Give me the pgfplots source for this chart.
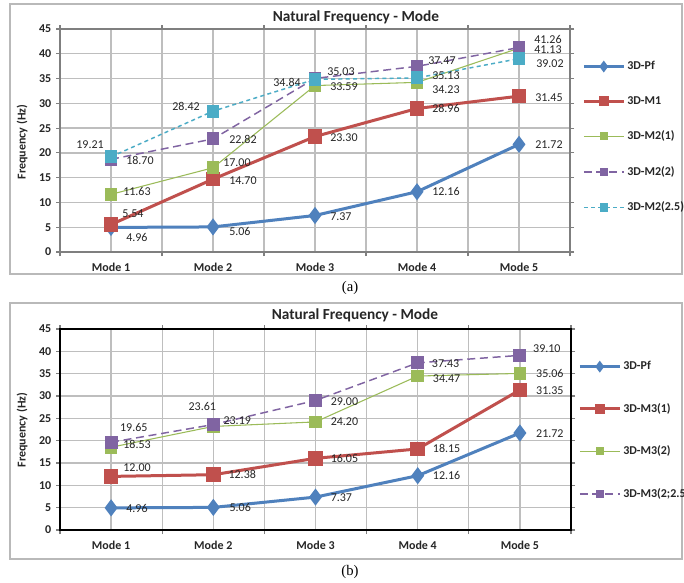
\documentclass[border=0pt]{standalone}
\usepackage{pgfplots}
\pgfplotsset{compat=1.18}
\usepackage{fontspec}
\setmainfont{Carlito}
\newfontfamily\capfont{Liberation Serif}
\definecolor{cblue}{HTML}{4F81BD}
\definecolor{cred}{HTML}{C0504D}
\definecolor{cgreen}{HTML}{9BBB59}
\definecolor{cpurple}{HTML}{8064A2}
\definecolor{ccyan}{HTML}{4BACC6}
\definecolor{gridc}{HTML}{BEBEBE}
\definecolor{axc}{HTML}{7F7F7F}

\pgfplotsset{
  base/.style={
    scale only axis, clip=false,
    xmin=0.5, xmax=5.5, ymin=0, ymax=45,
    xtick={1,2,3,4,5},
    xticklabels={Mode 1,Mode 2,Mode 3,Mode 4,Mode 5},
    minor xtick={0.5,1.5,2.5,3.5,4.5,5.5},
    ytick={0,5,...,45},
    xmajorgrids, xminorgrids, ymajorgrids,
    grid style={gridc, line width=1pt},
    minor grid style={gridc, line width=1pt},
    tick align=outside,
    major tick length=3pt, minor tick length=3pt,
    every major x tick/.append style={draw=none},
    every minor x tick/.append style={axc, line width=0.8pt},
    every major y tick/.append style={axc, line width=0.8pt},
    tick label style={font=\bfseries\fontsize{9}{10}\selectfont, text=black!85},
    xticklabel style={yshift=-2pt},
    /pgf/number format/assume math mode=true,
    legend cell align=left,
    legend style={draw=none, fill=none, inner sep=0pt, anchor=north west,
      font=\bfseries\fontsize{9}{10}\selectfont,
      nodes={inner sep=1.5pt, text=black!85}},
    legend image code/.code={
      \draw[mark repeat=2,mark phase=2,##1,mark size=2.6pt]
        plot coordinates {(0pt,0pt) (15pt,0pt) (30pt,0pt)};},
  },
  pf/.style={cblue, line width=2.25pt, mark=diamond*, mark size=4.6pt, mark options={solid}},
  mone/.style={cred, line width=2.25pt, mark=square*, mark size=4.3pt, mark options={solid}},
  mtwo/.style={cgreen, line width=0.8pt, mark=square*, mark size=4.3pt, mark options={solid}},
  mthree/.style={cpurple, line width=1.1pt, dash pattern=on 6pt off 3.5pt, mark=square*, mark size=4.3pt, mark options={solid}},
  mfour/.style={ccyan, line width=1.1pt, dash pattern=on 3pt off 2.5pt, mark=square*, mark size=4.3pt, mark options={solid}},
}
\tikzset{lbl/.style={inner sep=0pt, font=\fontsize{9}{10}\selectfont, text=black!85}}
\newcommand\lab[5][west]{\node[lbl,anchor=#1,xshift=#4pt,yshift=#5pt] at (axis cs:#2) {#3};}

\begin{document}
\begin{tikzpicture}[x=0.75pt,y=-0.75pt]
\useasboundingbox (0,0) rectangle (684,582);
\fill[white] (0,0) rectangle (684,582);
\draw[gray!55, line width=1.1pt] (10,4) rectangle (682,274);
\draw[gray!55, line width=1.1pt] (10,303) rectangle (682,559);
\node[font=\capfont\fontsize{11}{13}\selectfont] at (350,288) {(a)};
\node[font=\capfont\fontsize{11}{13}\selectfont] at (350,572) {(b)};
\node[font=\bfseries\fontsize{11.5}{13}\selectfont, text=black!85] at (356,17) {Natural Frequency - Mode};
\node[font=\bfseries\fontsize{11.5}{13}\selectfont, text=black!85] at (355,315) {Natural Frequency - Mode};
\node[rotate=90, font=\bfseries\fontsize{9}{10}\selectfont, text=black!85] at (22,142) {Frequency (Hz)};
\node[rotate=90, font=\bfseries\fontsize{9}{10}\selectfont, text=black!85] at (22,430) {Frequency (Hz)};

% ---------------- panel (a)
\begin{axis}[base,
  at={(45pt,-189pt)}, anchor=south west,
  width=382.5pt, height=167.25pt,
  axis line style={axc, line width=0.9pt},
  legend style={at={(axis description cs:1.0235,0.865)}},
  legend style={row sep=15.5pt},
]
\addplot[pf] coordinates {(1,4.96) (2,5.06) (3,7.37) (4,12.16) (5,21.72)};
\addplot[mone] coordinates {(1,5.54) (2,14.70) (3,23.30) (4,28.96) (5,31.45)};
\addplot[mtwo] coordinates {(1,11.63) (2,17.00) (3,33.59) (4,34.23) (5,41.13)};
\addplot[mthree] coordinates {(1,18.70) (2,22.82) (3,35.03) (4,37.47) (5,41.26)};
\addplot[mfour] coordinates {(1,19.21) (2,28.42) (3,34.84) (4,35.13) (5,39.02)};
\legend{3D-Pf,3D-M1,3D-M2(1),3D-M2(2),3D-M2(2.5)}
% labels 3D-Pf
\lab{1,4.96}{4.96}{11.25}{-7.5}
\lab{2,5.06}{5.06}{12}{-3.75}
\lab{3,7.37}{7.37}{11.25}{-0.75}
\lab{4,12.16}{12.16}{11.25}{0}
\lab{5,21.72}{21.72}{12}{0}
% 3D-M1
\lab{1,5.54}{5.54}{8.25}{8.25}
\lab{2,14.70}{14.70}{12}{-0.75}
\lab{3,23.30}{23.30}{11.25}{-1}
\lab{4,28.96}{28.96}{11.25}{0}
\lab{5,31.45}{31.45}{12}{-0.75}
% 3D-M2(1)
\lab{1,11.63}{11.63}{9}{2.25}
\lab{2,17.00}{17.00}{7.5}{3.75}
\lab{3,33.59}{33.59}{11.25}{-1}
\lab{4,34.23}{34.23}{11.25}{-5.25}
\lab{5,41.13}{41.13}{11.25}{-0.75}
% 3D-M2(2)
\lab{1,18.70}{18.70}{11.25}{-0.75}
\lab{2,22.82}{22.82}{12}{-0.75}
\lab{3,35.03}{35.03}{9}{5.25}
\lab{4,37.47}{37.47}{8.25}{4.5}
\lab{5,41.26}{41.26}{11.25}{6}
% 3D-M2(2.5)
\lab[east]{1,19.21}{19.21}{-5.25}{9}
\lab[east]{2,28.42}{28.42}{-9.75}{3.75}
\lab[east]{3,34.84}{34.84}{-10.5}{-2}
\lab{4,35.13}{35.13}{11.25}{1.5}
\lab{5,39.02}{39.02}{12.75}{-3.75}
\end{axis}

% ---------------- panel (b)
\begin{axis}[base,
  at={(45pt,-397.5pt)}, anchor=south west,
  width=383.25pt, height=150.75pt,
  axis line style={black, line width=0.9pt},
  legend style={at={(axis description cs:1.0137,0.85)}},
  legend style={row sep=20.75pt},
]
\addplot[pf] coordinates {(1,4.96) (2,5.06) (3,7.37) (4,12.16) (5,21.72)};
\addplot[mone] coordinates {(1,12.00) (2,12.38) (3,16.05) (4,18.15) (5,31.35)};
\addplot[mtwo] coordinates {(1,18.53) (2,23.19) (3,24.20) (4,34.47) (5,35.06)};
\addplot[mthree] coordinates {(1,19.65) (2,23.61) (3,29.00) (4,37.43) (5,39.10)};
\legend{3D-Pf,3D-M3(1),3D-M3(2),3D-M3(2;2.5)}
% 3D-Pf
\lab{1,4.96}{4.96}{11.25}{-0.75}
\lab{2,5.06}{5.06}{12}{0}
\lab{3,7.37}{7.37}{11.25}{-0.75}
\lab{4,12.16}{12.16}{11.25}{0}
\lab{5,21.72}{21.72}{12}{-0.75}
% 3D-M3(1)
\lab{1,12.00}{12.00}{9}{6.75}
\lab{2,12.38}{12.38}{11.25}{0}
\lab{3,16.05}{16.05}{11.25}{0}
\lab{4,18.15}{18.15}{11.25}{0}
\lab{5,31.35}{31.35}{12}{-0.75}
% 3D-M3(2)
\lab{1,18.53}{18.53}{9}{2.25}
\lab{2,23.19}{23.19}{7.5}{4.5}
\lab{3,24.20}{24.20}{11.25}{0}
\lab{4,34.47}{34.47}{11.25}{-2.25}
\lab{5,35.06}{35.06}{12}{0}
% 3D-M3(2;2.5)
\lab[center]{1,19.65}{19.65}{17}{11.25}
\lab[center]{2,23.61}{23.61}{-8.25}{13.5}
\lab{3,29.00}{29.00}{11.25}{-1}
\lab{4,37.43}{37.43}{10.5}{-0.75}
\lab{5,39.10}{39.10}{9.75}{5.25}
\end{axis}
\end{tikzpicture}
\end{document}
